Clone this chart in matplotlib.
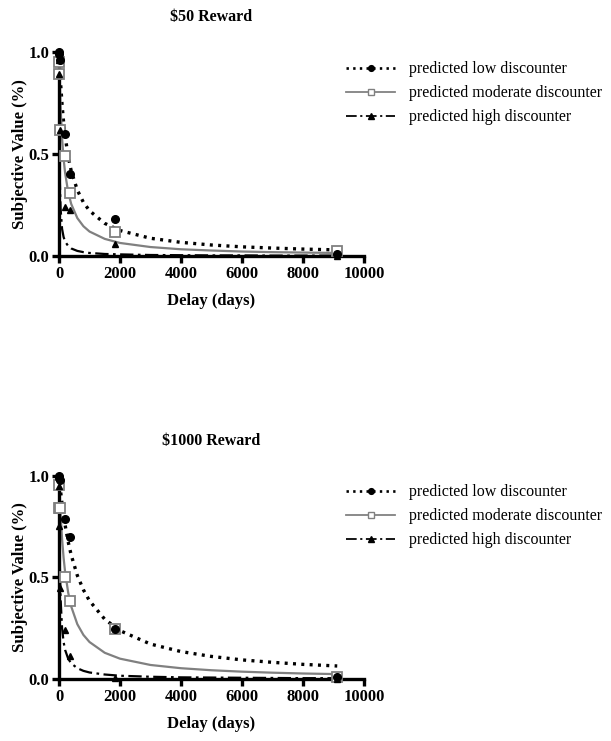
import matplotlib
matplotlib.use("Agg")
import matplotlib.pyplot as plt

plt.rcParams["font.family"] = ["Liberation Serif", "DejaVu Serif"]

# delays used in the task (days)
DELAYS = [1, 7, 30, 180, 365, 1825, 9125]

# observed (predicted-group) points, $50 reward
LOW_50 = [1.00, 0.99, 0.96, 0.60, 0.40, 0.18, 0.01]
MOD_50 = [0.95, 0.89, 0.62, 0.49, 0.31, 0.12, 0.025]
HIGH_50 = [0.96, 0.89, 0.62, 0.24, 0.225, 0.06, 0.0]

# observed points, $1000 reward
LOW_1000 = [1.00, 0.99, 0.98, 0.79, 0.70, 0.245, 0.01]
MOD_1000 = [0.955, 0.84, 0.84, 0.50, 0.385, 0.245, 0.01]
HIGH_1000 = [0.95, 0.755, 0.45, 0.24, 0.115, 0.005, 0.0]

# fitted curves
CURVE_X = [0, 10, 25, 50, 100, 150, 200, 300, 400, 600, 800, 1000, 1500,
           2000, 3000, 4000, 5000, 6000, 7000, 8000, 9125]
LOW_50_FIT = [1.0, 0.966, 0.92, 0.851, 0.741, 0.656, 0.588, 0.488, 0.417, 0.323,
              0.263, 0.222, 0.16, 0.125, 0.087, 0.067, 0.054, 0.045, 0.039, 0.034, 0.030]
MOD_50_FIT = [1.0, 0.932, 0.846, 0.733, 0.578, 0.477, 0.407, 0.313, 0.255, 0.186,
              0.146, 0.120, 0.084, 0.064, 0.044, 0.033, 0.027, 0.022, 0.019, 0.017, 0.015]
HIGH_50_FIT = [1.0, 0.606, 0.381, 0.235, 0.133, 0.093, 0.071, 0.049, 0.037, 0.025,
               0.019, 0.015, 0.010, 0.008, 0.005, 0.004, 0.003, 0.003, 0.002, 0.002, 0.002]
LOW_1000_FIT = [1.0, 0.984, 0.962, 0.926, 0.862, 0.806, 0.758, 0.676, 0.610, 0.510,
                0.439, 0.385, 0.294, 0.238, 0.172, 0.135, 0.111, 0.094, 0.082, 0.072, 0.064]
MOD_1000_FIT = [1.0, 0.957, 0.899, 0.816, 0.690, 0.597, 0.526, 0.426, 0.357, 0.270,
                0.217, 0.182, 0.129, 0.100, 0.069, 0.053, 0.043, 0.036, 0.031, 0.027, 0.024]
HIGH_1000_FIT = [1.0, 0.769, 0.571, 0.40, 0.25, 0.182, 0.143, 0.10, 0.077, 0.053,
                 0.040, 0.032, 0.022, 0.016, 0.011, 0.008, 0.007, 0.006, 0.005, 0.004, 0.004]

LABELS = ["predicted low discounter", "predicted moderate discounter",
          "predicted high discounter"]
GREY = "#808080"
DOT = (0, (0.9, 1.6))
DASHDOT = (0, (6, 2, 1.2, 2))

STYLES = [
    dict(color="black", ls=DOT, lw=2.4, marker="o", ms=5.5, mfc="black", mec="black", z=6),
    dict(color=GREY, ls="-", lw=1.6, marker="s", ms=6.5, mfc="white", mec=GREY, mew=1.3, z=4),
    dict(color="black", ls=DASHDOT, lw=1.6, marker="^", ms=5, mfc="black", mec="black", z=5),
]


def panel(fig, rect, title, pts, fits, leg_y):
    ax = fig.add_axes(rect)
    handles = []
    for st, p, f, lab in zip(STYLES, pts, fits, LABELS):
        ax.plot(CURVE_X, f, color=st["color"], ls=st["ls"], lw=st["lw"], clip_on=False)
        ax.plot(DELAYS, p, ls="none", marker=st["marker"], ms=st["ms"], mfc=st["mfc"],
                mec=st["mec"], mew=st.get("mew", 1.0), clip_on=False, zorder=st["z"])
        h, = ax.plot([], [], color=st["color"], ls=st["ls"], lw=st["lw"] * 0.8,
                     marker=st["marker"], ms=st["ms"] * 0.75, mfc=st["mfc"],
                     mec=st["mec"], label=lab)
        handles.append(h)
    ax.set_xlim(0, 10000)
    ax.set_ylim(0, 1.0)
    ax.set_xticks([0, 2000, 4000, 6000, 8000, 10000])
    ax.set_yticks([0, 0.5, 1.0])
    ax.set_yticklabels(["0.0", "0.5", "1.0"])
    for s in ["top", "right"]:
        ax.spines[s].set_visible(False)
    for s in ["left", "bottom"]:
        ax.spines[s].set_linewidth(2.4)
    ax.tick_params(width=2.4, length=5, labelsize=12, pad=2)
    for t in ax.get_xticklabels() + ax.get_yticklabels():
        t.set_fontweight("bold")
    ax.set_xlabel("Delay (days)", fontsize=12, fontweight="bold", labelpad=8)
    ax.set_ylabel("Subjective Value (%)", fontsize=12, fontweight="bold", labelpad=0)
    ax.set_title(title, fontsize=11.5, fontweight="bold", pad=22)
    fig.legend(handles=handles, loc="upper left", bbox_to_anchor=(0.5426, leg_y),
               frameon=False, fontsize=11.5, handlelength=3.1, handletextpad=0.85,
               labelspacing=0.5, numpoints=1)
    return ax


fig = plt.figure(figsize=(6.11, 7.41), dpi=100)
panel(fig, [0.0966, 0.6545, 0.499, 0.2753], "$50 Reward",
      [LOW_50, MOD_50, HIGH_50], [LOW_50_FIT, MOD_50_FIT, HIGH_50_FIT], 0.9365)
panel(fig, [0.0966, 0.0837, 0.499, 0.274], "$1000 Reward",
      [LOW_1000, MOD_1000, HIGH_1000], [LOW_1000_FIT, MOD_1000_FIT, HIGH_1000_FIT], 0.366)
fig.savefig("out.png", dpi=100)
